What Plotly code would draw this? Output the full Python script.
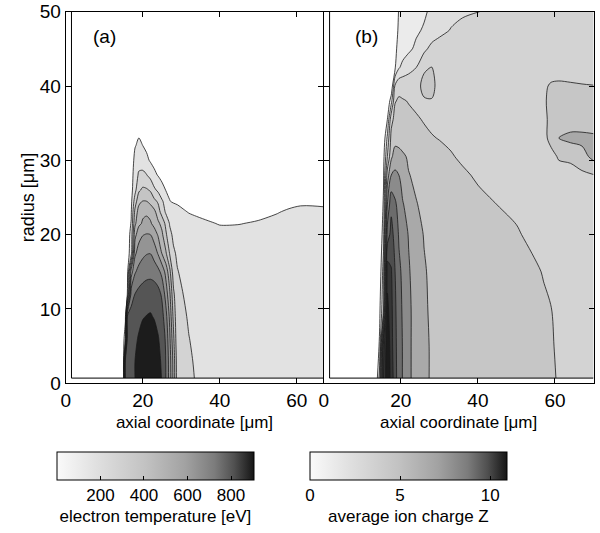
import plotly.graph_objects as go

# ---------------- Panel (a): electron temperature [eV] ----------------
x_a = [1.5, 14, 15, 15.5, 16, 17, 18, 19, 20, 21, 22, 23, 24, 25, 26, 27, 28, 29,
       30.5, 32, 34, 37, 40, 45, 50, 55, 58, 61, 64, 67, 70]
y_a = [0.7, 3, 6, 9, 12, 15, 17.5, 20, 21.5, 23, 24.5, 26, 28, 30, 32, 34, 38, 44, 50]
T_a = [
    [0, 0, 30, 790, 810, 830, 850, 880, 900, 905, 905, 900, 880, 845, 750, 607, 417, 194, 175, 162, 145, 130, 120, 110, 105, 100, 100, 100, 100, 100, 100],
    [0, 0, 20, 770, 810, 830, 850, 875, 895, 900, 900, 893, 872, 838, 748, 602, 412, 190, 170, 158, 142, 128, 118, 108, 103, 100, 100, 100, 100, 100, 100],
    [0, 0, 5, 150, 790, 815, 835, 858, 878, 888, 888, 880, 857, 815, 735, 570, 370, 170, 160, 151, 140, 125, 115, 106, 102, 100, 100, 100, 100, 100, 100],
    [0, 0, 0, 20, 760, 790, 810, 830, 845, 852, 856, 845, 820, 785, 690, 530, 320, 170, 158, 145, 135, 122, 112, 104, 100, 98, 98, 98, 98, 98, 98],
    [0, 0, 0, 0, 50, 700, 752, 780, 800, 815, 820, 810, 785, 735, 610, 470, 270, 170, 150, 140, 128, 116, 108, 100, 96, 95, 95, 95, 95, 95, 95],
    [0, 0, 0, 0, 0, 500, 640, 680, 700, 712, 715, 705, 680, 620, 520, 380, 194, 153, 138, 130, 120, 110, 102, 96, 92, 91, 92, 92, 92, 92, 92],
    [0, 0, 0, 0, 0, 100, 530, 600, 630, 645, 648, 610, 540, 445, 365, 245, 160, 140, 125, 115, 105, 96, 90, 85, 82, 82, 84, 85, 85, 84, 84],
    [0, 0, 0, 0, 0, 80, 420, 510, 545, 556, 550, 500, 440, 370, 270, 170, 135, 120, 105, 95, 85, 72, 62, 60, 63, 66, 70, 72, 72, 71, 70],
    [0, 0, 0, 0, 0, 55, 330, 430, 460, 470, 462, 420, 370, 320, 225, 145, 120, 100, 85, 75, 64, 54, 48, 49, 53, 58, 62, 64, 64, 63, 62],
    [0, 0, 0, 0, 0, 40, 280, 400, 435, 440, 420, 380, 300, 210, 140, 110, 90, 76, 58, 48, 42, 38, 36, 37, 42, 49, 54, 57, 57, 56, 55],
    [0, 0, 0, 0, 0, 25, 200, 320, 352, 350, 320, 275, 235, 165, 105, 52, 42, 38, 32, 28, 25, 22, 20, 20, 24, 34, 42, 45, 45, 44, 43],
    [0, 0, 0, 0, 0, 15, 120, 235, 268, 262, 240, 170, 130, 75, 48, 38, 30, 27, 24, 21, 18, 16, 14, 14, 16, 22, 28, 30, 30, 30, 30],
    [0, 0, 0, 0, 0, 5, 100, 165, 172, 155, 118, 70, 45, 28, 20, 16, 14, 12, 11, 10, 9, 8, 7, 7, 8, 11, 14, 15, 15, 15, 15],
    [0, 0, 0, 0, 0, 0, 75, 110, 105, 70, 40, 24, 16, 11, 8, 6, 6, 6, 5, 5, 5, 5, 5, 5, 5, 5, 5, 5, 5, 5, 5],
    [0, 0, 0, 0, 0, 0, 45, 65, 50, 32, 20, 13, 9, 6, 5, 4, 4, 3, 3, 3, 3, 3, 3, 3, 3, 3, 3, 3, 3, 3, 3],
    [0, 0, 0, 0, 0, 0, 25, 35, 28, 18, 10, 6, 4, 3, 3, 2, 2, 2, 2, 2, 2, 2, 2, 2, 2, 2, 2, 2, 2, 2, 2],
    [0, 0, 0, 0, 0, 0, 8, 12, 10, 6, 4, 2, 1, 1, 1, 1, 1, 1, 1, 1, 1, 1, 1, 1, 1, 1, 1, 1, 1, 1, 1],
    [0, 0, 0, 0, 0, 0, 0, 0, 0, 0, 0, 0, 0, 0, 0, 0, 0, 0, 0, 0, 0, 0, 0, 0, 0, 0, 0, 0, 0, 0, 0],
    [0, 0, 0, 0, 0, 0, 0, 0, 0, 0, 0, 0, 0, 0, 0, 0, 0, 0, 0, 0, 0, 0, 0, 0, 0, 0, 0, 0, 0, 0, 0],
]
levels_a = dict(start=50, end=850, size=100)
band_colors_a = ["#ffffff", "#e2e2e2", "#d3d3d3", "#c4c4c4", "#b5b5b5",
                 "#a5a5a5", "#949494", "#7a7a7a", "#555555", "#1c1c1c"]
cbar_ticks_a = [200, 400, 600, 800]
cbar_range_a = [0, 905]

# ---------------- Panel (b): average ion charge Z ----------------
x_b = [1.5, 13.5, 14.5, 15.5, 16.5, 17.5, 18.5, 19.5, 20.5, 22, 24, 26, 28, 30, 33,
       36, 40, 45, 50, 54, 57, 59, 61, 64, 67, 70]
y_b = [0.7, 5, 10, 15, 20, 24, 28, 30.5, 33, 35.5, 38, 40, 42.5, 45, 47.5, 50]
Z_b = [
    [0, 0, 2.5, 9, 10.9, 9.6, 8.4, 7.4, 6.95, 6.2, 5.6, 5.2, 4.9, 4.7, 4.5, 4.4, 4.3, 4.2, 4.15, 4.1, 4.06, 4.05, 3.97, 3.85, 3.8, 3.75],
    [0, 0, 1.2, 8.5, 10.9, 9.4, 8.3, 7.4, 6.95, 6.2, 5.6, 5.2, 4.9, 4.7, 4.5, 4.4, 4.3, 4.2, 4.15, 4.1, 4.06, 4.03, 3.95, 3.85, 3.8, 3.75],
    [0, 0, 0.8, 3, 10.3, 9.3, 8.2, 7.3, 6.9, 6.2, 5.6, 5.15, 4.85, 4.65, 4.45, 4.35, 4.25, 4.18, 4.12, 4.07, 4.03, 4.005, 3.93, 3.85, 3.8, 3.75],
    [0, 0, 0.3, 2.5, 9.6, 9.1, 8.0, 7.2, 6.8, 6.1, 5.55, 5.1, 4.8, 4.6, 4.45, 4.35, 4.25, 4.17, 4.1, 4.04, 3.99, 3.93, 3.88, 3.82, 3.78, 3.75],
    [0, 0, 0, 1.6, 7.5, 8.3, 7.7, 6.9, 6.5, 5.95, 5.45, 4.95, 4.7, 4.55, 4.4, 4.3, 4.2, 4.1, 4.02, 3.96, 3.9, 3.87, 3.84, 3.8, 3.77, 3.75],
    [0, 0, 0, 1.15, 6.0, 7.8, 7.2, 6.6, 6.05, 5.75, 5.05, 4.8, 4.6, 4.45, 4.3, 4.2, 4.1, 4.0, 3.96, 3.93, 3.88, 3.85, 3.82, 3.8, 3.78, 3.76],
    [0, 0, 0, 0.9, 4.5, 6.0, 6.2, 6.0, 5.7, 5.05, 4.8, 4.6, 4.45, 4.3, 4.2, 4.06, 3.95, 3.9, 3.85, 3.82, 3.8, 3.8, 3.8, 3.82, 3.8, 3.95],
    [0, 0, 0, 0.7, 3.0, 4.8, 5.5, 5.45, 5.2, 4.85, 4.55, 4.4, 4.25, 4.15, 4.03, 3.94, 3.87, 3.82, 3.8, 3.78, 3.78, 3.85, 4.05, 4.1, 4.6, 5.3],
    [0, 0, 0, 0.3, 2.2, 4.3, 4.6, 4.5, 4.4, 4.3, 4.2, 4.1, 4.03, 3.98, 3.93, 3.88, 3.82, 3.8, 3.78, 3.78, 3.85, 4.15, 5.0, 5.3, 5.3, 5.2],
    [0, 0, 0, 0, 1.0, 3.7, 4.3, 4.3, 4.25, 4.15, 4.05, 3.97, 3.9, 3.86, 3.82, 3.8, 3.78, 3.76, 3.75, 3.75, 3.85, 4.15, 4.3, 4.35, 4.35, 4.35],
    [0, 0, 0, 0, 0, 1.6, 3.95, 4.1, 4.05, 3.97, 3.9, 3.93, 3.97, 3.88, 3.85, 3.82, 3.8, 3.78, 3.77, 3.77, 3.88, 4.2, 4.3, 4.3, 4.3, 4.25],
    [0, 0, 0, 0, 0, 0, 3.2, 3.75, 3.7, 3.65, 3.75, 4.2, 4.15, 3.8, 3.75, 3.72, 3.7, 3.7, 3.7, 3.72, 3.85, 4.1, 4.15, 4.1, 4.05, 4.02],
    [0, 0, 0, 0, 0, 0, 0.9, 1.9, 2.3, 2.65, 3.0, 3.9, 4.02, 3.7, 3.6, 3.6, 3.6, 3.6, 3.6, 3.6, 3.6, 3.6, 3.6, 3.6, 3.6, 3.6],
    [0, 0, 0, 0, 0, 0, 0.8, 1.3, 1.5, 1.8, 2.2, 2.75, 3.3, 3.5, 3.55, 3.55, 3.55, 3.55, 3.55, 3.55, 3.55, 3.55, 3.55, 3.55, 3.55, 3.55],
    [0, 0, 0, 0, 0, 0, 0.5, 1.2, 1.4, 1.6, 1.85, 2.1, 2.4, 2.7, 3.05, 3.3, 3.45, 3.5, 3.5, 3.5, 3.5, 3.5, 3.5, 3.5, 3.5, 3.5],
    [0, 0, 0, 0, 0, 0, 0.6, 1.05, 1.2, 1.35, 1.6, 1.85, 2.2, 2.45, 2.7, 2.85, 2.98, 3.2, 3.35, 3.45, 3.5, 3.5, 3.5, 3.5, 3.5, 3.5],
]
levels_b = dict(start=1, end=10, size=1)
band_colors_b = ["#ffffff", "#ebebeb", "#dedede", "#d3d3d3", "#c6c6c6", "#a9a9a9",
                 "#8b8b8b", "#6c6c6c", "#4e4e4e", "#353535", "#1c1c1c"]
cbar_ticks_b = [0, 5, 10]
cbar_range_b = [0, 10.93]

# continuous grey map used by both colour bars
cbar_scale = [[0.0, "#fafafa"], [0.2, "#e0e0e0"], [0.45, "#c2c2c2"], [0.65, "#a2a2a2"],
              [0.8, "#7c7c7c"], [0.9, "#505050"], [1.0, "#151515"]]

FONT = "Liberation Sans, Arial, Helvetica, sans-serif"


def band_scale(colors):
    n = len(colors) - 1
    return [[i / n, c] for i, c in enumerate(colors)]


fig = go.Figure()

fig.add_trace(go.Contour(
    x=x_a, y=y_a, z=T_a, xaxis="x", yaxis="y",
    autocontour=False, contours=dict(coloring="fill", showlines=True, **levels_a),
    colorscale=band_scale(band_colors_a), showscale=False,
    line=dict(color="#1a1a1a", width=0.8, smoothing=0.9), hoverinfo="skip"))

fig.add_trace(go.Contour(
    x=x_b, y=y_b, z=Z_b, xaxis="x2", yaxis="y2",
    autocontour=False, contours=dict(coloring="fill", showlines=True, **levels_b),
    colorscale=band_scale(band_colors_b), showscale=False,
    line=dict(color="#1a1a1a", width=0.8, smoothing=0.9), hoverinfo="skip"))

# edges of the computational domain (left and bottom)
for xs, ys, xa, ya in [(x_a, y_a, "x", "y"), (x_b, y_b, "x2", "y2")]:
    fig.add_trace(go.Scatter(x=[xs[0], xs[0], xs[-1]], y=[ys[-1], ys[0], ys[0]],
                             mode="lines", line=dict(color="black", width=1),
                             xaxis=xa, yaxis=ya, showlegend=False, hoverinfo="skip"))


# colour bars
def cbar_trace(rng, ticks, title, xc, xa, ya):
    return go.Scatter(
        x=[None], y=[None], mode="markers", xaxis=xa, yaxis=ya,
        marker=dict(color=[rng[0]], cmin=rng[0], cmax=rng[1], colorscale=cbar_scale,
                    showscale=True,
                    colorbar=dict(orientation="h", thickness=28, thicknessmode="pixels",
                                  len=197, lenmode="pixels", x=xc, xanchor="center",
                                  y=1 - 452 / 533, yanchor="top", ypad=0, xpad=0,
                                  outlinewidth=1, outlinecolor="black",
                                  ticks="inside", ticklen=4, tickcolor="black",
                                  tickvals=ticks, tickfont=dict(size=17, family=FONT, color="black"),
                                  title=dict(text=title, side="bottom",
                                             font=dict(size=17, family=FONT, color="black")))),
        showlegend=False, hoverinfo="skip")


fig.add_trace(cbar_trace(cbar_range_a, cbar_ticks_a, "electron temperature [eV]", 155.4 / 600, "x", "y"))
fig.add_trace(cbar_trace(cbar_range_b, cbar_ticks_b, "average ion charge Z", 408.4 / 600, "x2", "y2"))

axis_common = dict(showline=True, linecolor="black", linewidth=1, mirror="ticks",
                   ticks="inside", ticklen=5, tickcolor="black", showgrid=False,
                   zeroline=False, tickfont=dict(size=19, family=FONT, color="black"))
ydom = [1 - 383.3 / 533, 1 - 11.7 / 533]

fig.update_layout(
    width=600, height=533, margin=dict(l=0, r=0, t=0, b=0, autoexpand=False),
    paper_bgcolor="white", plot_bgcolor="white",
    font=dict(family=FONT, color="black", size=17),
    showlegend=False,
    xaxis=dict(domain=[65.7 / 600, 323.3 / 600], range=[0, 66.9], tickvals=[0, 20, 40, 60],
               anchor="y", title=dict(text="axial coordinate [μm]", standoff=6,
                                      font=dict(size=17)), **axis_common),
    yaxis=dict(domain=ydom, range=[0, 50], tickvals=[0, 10, 20, 30, 40, 50], anchor="x",
               title=dict(text="radius [μm]", standoff=0, font=dict(size=18)), **axis_common),
    xaxis2=dict(domain=[323.8 / 600, 593.5 / 600], range=[0, 70], tickvals=[0, 20, 40, 60],
                anchor="y2", title=dict(text="axial coordinate [μm]", standoff=6,
                                        font=dict(size=17)), **axis_common),
    yaxis2=dict(domain=ydom, range=[0, 50], tickvals=[0, 10, 20, 30, 40, 50], anchor="x2",
                showticklabels=False, **axis_common),
    annotations=[
        dict(text="(a)", x=10.2, y=46.6, xref="x", yref="y", showarrow=False,
             font=dict(size=19, family=FONT, color="black")),
        dict(text="(b)", x=11.1, y=46.6, xref="x2", yref="y2", showarrow=False,
             font=dict(size=19, family=FONT, color="black")),
    ],
)

# remove the browser's default 8px page margin so the figure fills the window
fig.write_html("out.html", config={"displayModeBar": False},
               post_script="document.body.style.margin='0px';")
